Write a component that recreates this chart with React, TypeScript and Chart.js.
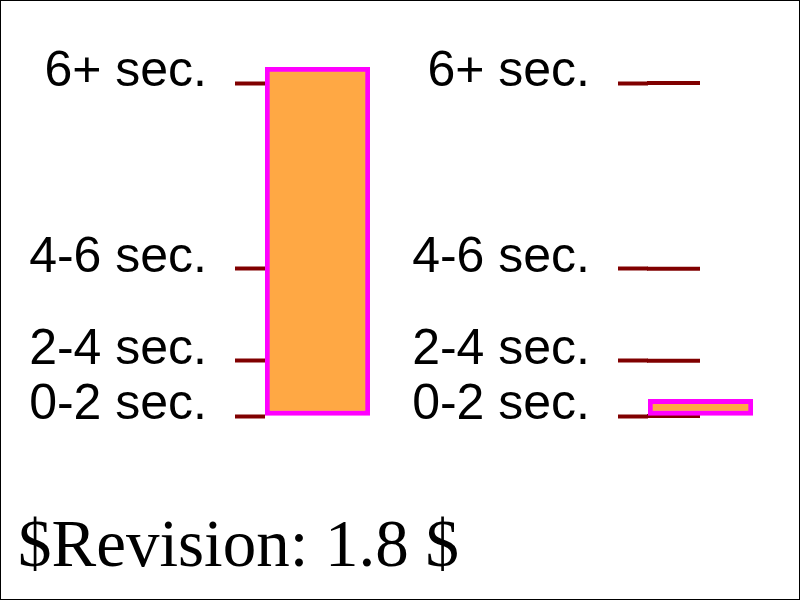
import React, { useEffect, useRef } from "react";
import { Chart, registerables } from "chart.js";
Chart.register(...registerables);

const tickLabels = ["0-2 sec.", "2-4 sec.", "4-6 sec.", "6+ sec."];
const tickValues = [0, 15.8, 42.2, 95.4];
const leftValues = [100];
const rightValues = [4.8];

function Panel({ values, left, width, axisWidth, extend }: { values: number[]; left: number; width: number; axisWidth: number; extend: number }) {
  const ref = useRef<HTMLCanvasElement>(null);
  useEffect(() => {
    const extTicks = {
      id: "extTicks",
      beforeDatasetsDraw(chart: any) {
        if (!extend) return;
        const { ctx, chartArea, scales } = chart;
        ctx.save();
        ctx.strokeStyle = "#800000";
        ctx.lineWidth = 4;
        tickValues.forEach((v) => {
          const y = scales.y.getPixelForValue(v);
          ctx.beginPath();
          ctx.moveTo(chartArea.left - 1, y);
          ctx.lineTo(chartArea.left + extend, y);
          ctx.stroke();
        });
        ctx.restore();
      },
    };
    const chart = new Chart(ref.current!, {
      type: "bar",
      data: {
        labels: ["a"],
        datasets: [{
          data: values,
          backgroundColor: "#FFA844",
          borderColor: "#FF00FF",
          borderWidth: 5,
          borderSkipped: false,
          barPercentage: 1,
          categoryPercentage: 1,
        }],
      },
      plugins: [extTicks],
      options: {
        animation: false,
        responsive: false,
        layout: { padding: { top: 66, bottom: 185, left: 0, right: 2 } },
        plugins: { legend: { display: false }, tooltip: { enabled: false } },
        scales: {
          x: { display: false },
          y: {
            min: 0,
            max: 100,
            afterFit: (s: any) => { s.width = axisWidth; },
            afterBuildTicks: (s: any) => { s.ticks = tickValues.map((v) => ({ value: v })); },
            ticks: {
              autoSkip: false,
              padding: 28,
              labelOffset: -11,
              color: "#000",
              font: { family: "Liberation Sans, Arial", size: 50 },
              callback: (v: any) => tickLabels[tickValues.indexOf(Number(v))] ?? "",
            },
            grid: { drawOnChartArea: false, tickLength: 30, tickColor: "#800000", tickWidth: 4 },
            border: { display: false },
          },
        },
      },
    });
    return () => chart.destroy();
  }, []);
  return <canvas ref={ref} width={width} height={600} style={{ position: "absolute", left, top: 0, width, height: 600 }} />;
}

export default function App() {
  return (
    <div style={{ position: "fixed", left: 0, top: 0, width: 798, height: 598, border: "1px solid #000", background: "#fff", overflow: "hidden" }}>
      <Panel values={leftValues} left={0} width={371} axisWidth={264} extend={0} />
      <Panel values={rightValues} left={400} width={354} axisWidth={247} extend={52} />
      <div style={{ position: "absolute", left: 17, top: 500, fontFamily: "Liberation Serif, Times New Roman, serif", fontSize: 67, lineHeight: "84px", whiteSpace: "nowrap" }}>
        $Revision: 1.8 $
      </div>
    </div>
  );
}
